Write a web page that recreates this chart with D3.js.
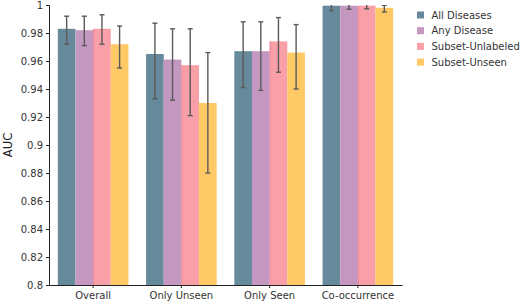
<!DOCTYPE html>
<html>
<head>
<meta charset="utf-8">
<script src="https://cdn.jsdelivr.net/npm/d3@7"></script>
<style>
  body { margin: 0; background: #fff; }
  text { font-family: "DejaVu Sans", sans-serif; }
</style>
</head>
<body>
<div id="chart"></div>
<script>
// categories and series
var groups = ["Overall", "Only Unseen", "Only Seen", "Co-occurrence"];
var seriesNames = ["All Diseases", "Any Disease", "Subset-Unlabeled", "Subset-Unseen"];
var colors = ["#668a9b", "#c497c1", "#f99fa8", "#ffc966"];

// mean AUC per series, one value per group
var allDiseases = [0.983, 0.965, 0.967, 0.9995];
var anyDisease = [0.982, 0.961, 0.967, 0.9995];
var subsetUnlabeled = [0.983, 0.957, 0.974, 0.9995];
var subsetUnseen = [0.972, 0.930, 0.966, 0.998];

// error bar lows / highs
var allLow = [0.972, 0.933, 0.941, 0.996];
var allHigh = [0.992, 0.987, 0.988, 1.003];
var anyLow = [0.971, 0.932, 0.939, 0.997];
var anyHigh = [0.992, 0.983, 0.988, 1.002];
var unlLow = [0.972, 0.921, 0.952, 0.9973];
var unlHigh = [0.993, 0.983, 0.991, 1.002];
var unsLow = [0.955, 0.880, 0.940, 0.995];
var unsHigh = [0.985, 0.966, 0.986, 0.9998];

var yTicks = [0.8, 0.82, 0.84, 0.86, 0.88, 0.9, 0.92, 0.94, 0.96, 0.98, 1];

var series = [
  {name: seriesNames[0], values: allDiseases, low: allLow, high: allHigh},
  {name: seriesNames[1], values: anyDisease, low: anyLow, high: anyHigh},
  {name: seriesNames[2], values: subsetUnlabeled, low: unlLow, high: unlHigh},
  {name: seriesNames[3], values: subsetUnseen, low: unsLow, high: unsHigh}
];

var svgWidth = 526, svgHeight = 304;
var margin = {top: 5, right: 124, bottom: 19, left: 49};

var svg = d3.select("#chart").append("svg")
  .attr("width", svgWidth)
  .attr("height", svgHeight);

var x0 = d3.scaleBand()
  .domain(groups)
  .range([margin.left, svgWidth - margin.right])
  .paddingInner(0);

var x1 = d3.scaleBand()
  .domain(seriesNames)
  .range([x0.bandwidth() * 0.1, x0.bandwidth() * 0.9]);

var y = d3.scaleLinear()
  .domain([0.8, 1])
  .range([svgHeight - margin.bottom, margin.top]);

// clip everything above 1.0
svg.append("defs").append("clipPath").attr("id", "plotClip")
  .append("rect")
  .attr("x", margin.left)
  .attr("y", y(1))
  .attr("width", svgWidth - margin.left - margin.right)
  .attr("height", y(0.8) - y(1));

var plot = svg.append("g").attr("clip-path", "url(#plotClip)");

// bars
var bars = [];
series.forEach(function(s, si) {
  groups.forEach(function(g, gi) {
    bars.push({group: g, name: s.name, value: s.values[gi], low: s.low[gi], high: s.high[gi], color: colors[si]});
  });
});

plot.append("g").selectAll("rect")
  .data(bars)
  .enter()
  .append("rect")
  .attr("x", d => x0(d.group) + x1(d.name))
  .attr("y", d => y(d.value))
  .attr("width", x1.bandwidth())
  .attr("height", d => y(0.8) - y(d.value))
  .attr("fill", d => d.color);

// faint edge on left of pink bars
plot.append("g").selectAll("line")
  .data(bars.filter(d => d.name == "Subset-Unlabeled"))
  .enter()
  .append("line")
  .attr("x1", d => x0(d.group) + x1(d.name) + 0.5)
  .attr("x2", d => x0(d.group) + x1(d.name) + 0.5)
  .attr("y1", d => y(d.value))
  .attr("y2", y(0.8))
  .attr("stroke", "#ec8294")
  .attr("stroke-width", 0.8);

// error bars
var errG = plot.append("g").attr("stroke", "#5a5a5a").attr("stroke-width", 1.4);
bars.forEach(function(d) {
  var cx = x0(d.group) + x1(d.name) + x1.bandwidth() / 2;
  errG.append("line").attr("x1", cx).attr("x2", cx).attr("y1", y(d.low)).attr("y2", y(d.high));
  errG.append("line").attr("x1", cx - 2.5).attr("x2", cx + 2.5).attr("y1", y(d.low)).attr("y2", y(d.low));
  errG.append("line").attr("x1", cx - 2.5).attr("x2", cx + 2.5).attr("y1", y(d.high)).attr("y2", y(d.high));
});

// axes
svg.append("g")
  .attr("transform", `translate(${margin.left},0)`)
  .call(d3.axisLeft(y).tickValues(yTicks).tickSize(3).tickPadding(3).tickFormat(d => String(+d.toFixed(2))));

svg.append("g")
  .attr("transform", `translate(0,${svgHeight - margin.bottom})`)
  .call(d3.axisBottom(x0).tickSize(3).tickPadding(4).tickSizeOuter(0));

svg.selectAll(".domain").attr("stroke", "#222");
svg.selectAll(".tick line").attr("stroke", "#222");
svg.selectAll(".tick text").attr("font-size", 10).attr("fill", "#333").attr("font-family", "DejaVu Sans, sans-serif");

// y label
svg.append("text")
  .attr("transform", `translate(12, ${(y(0.8) + y(1)) / 2}) rotate(-90)`)
  .attr("text-anchor", "middle")
  .attr("font-size", 11.5)
  .attr("fill", "#222")
  .text("AUC");

// legend
var legend = svg.append("g").attr("transform", "translate(417, 15)");
seriesNames.forEach(function(n, i) {
  var row = legend.append("g").attr("transform", `translate(0, ${i * 15.7})`);
  row.append("rect").attr("x", 0).attr("y", -3.5).attr("width", 7).attr("height", 7).attr("fill", colors[i]);
  row.append("text").attr("x", 14.5).attr("y", 0).attr("dy", "0.35em")
    .attr("font-size", 10).attr("fill", "#333").text(n);
});
</script>
</body>
</html>
